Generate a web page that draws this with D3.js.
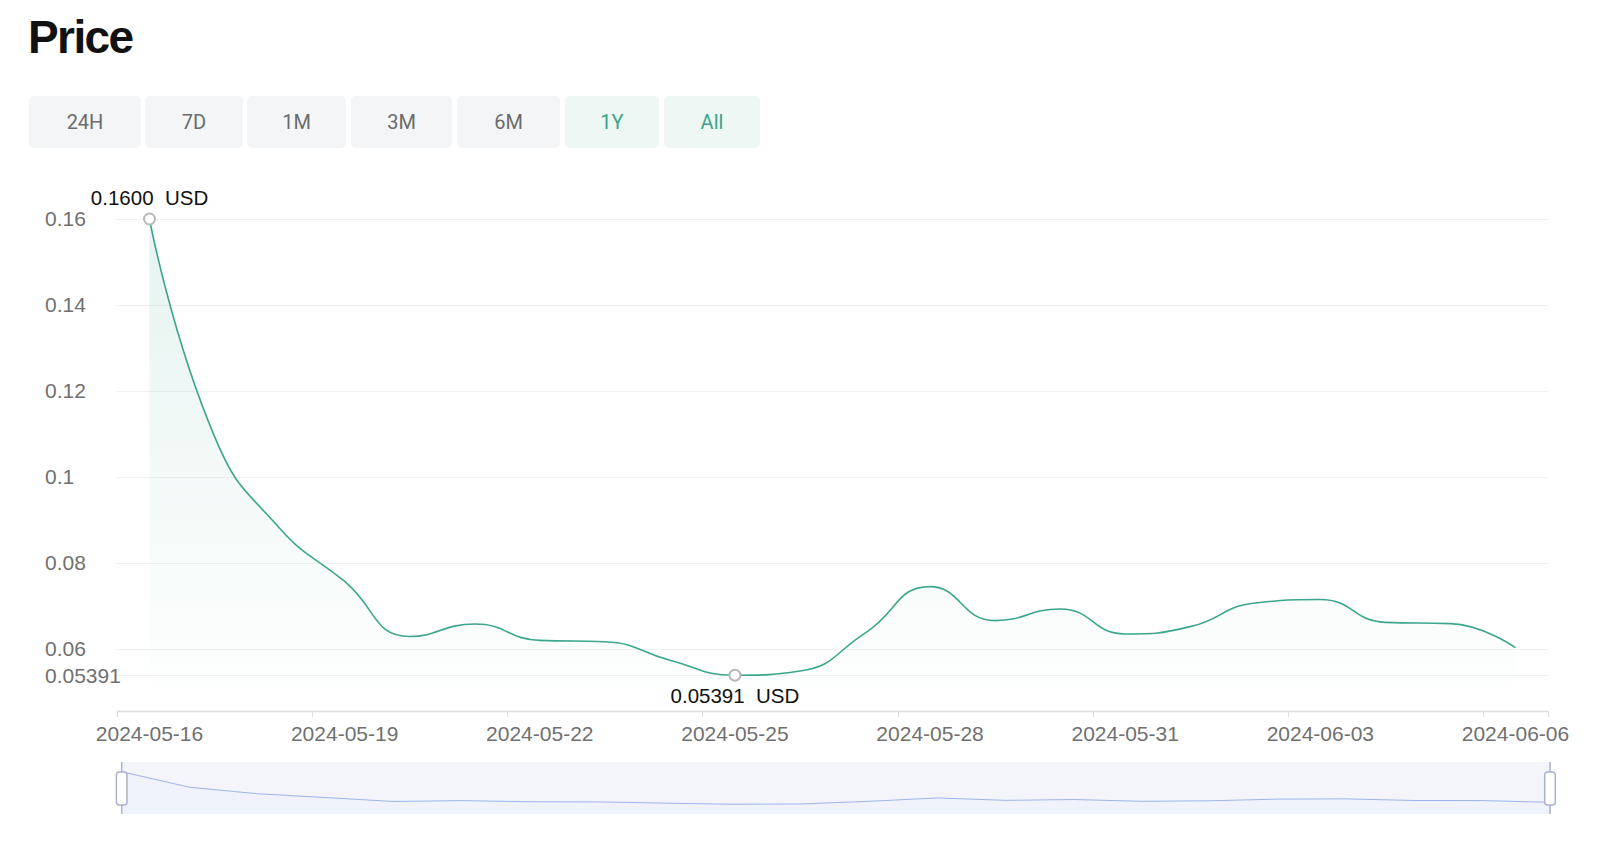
<!DOCTYPE html>
<html>
<head>
<meta charset="utf-8">
<script src="https://cdn.jsdelivr.net/npm/d3@7"></script>
<style>
  html, body { margin: 0; padding: 0; background: #fff; }
  svg { display: block; }
</style>
</head>
<body>
<svg id="chart" width="1600" height="846"></svg>
<script>
// ---------------- data ----------------
const dates = [
  "2024-05-16","2024-05-17","2024-05-18","2024-05-19","2024-05-20","2024-05-21",
  "2024-05-22","2024-05-23","2024-05-24","2024-05-25","2024-05-26","2024-05-27",
  "2024-05-28","2024-05-29","2024-05-30","2024-05-31","2024-06-01","2024-06-02",
  "2024-06-03","2024-06-04","2024-06-05","2024-06-06"
];
const prices = [
  0.1600, 0.1094, 0.0881, 0.0757, 0.0629, 0.0658,
  0.0620, 0.0617, 0.0574, 0.05391, 0.0549, 0.0637,
  0.0745, 0.0666, 0.0693, 0.0635, 0.0652, 0.0707,
  0.0715, 0.0662, 0.0659, 0.0603
];
const yTicks = [0.06, 0.08, 0.10, 0.12, 0.14, 0.16];
const yTickLabels = ["0.06", "0.08", "0.1", "0.12", "0.14", "0.16"];
const yMinValue = 0.05391;
const yMinLabel = "0.05391";
const yDomain = [0.04558, 0.16];
const xLabelEvery = 3;
const rangeButtons = ["24H", "7D", "1M", "3M", "6M", "1Y", "All"];
const activeButtons = ["1Y", "All"];
const unit = "USD";
const title = "Price";

// ---------------- layout ----------------
const svg = d3.select("#chart");
const FONT = "'Liberation Sans', Arial, Helvetica, sans-serif";
const plot = { left: 117, right: 1548, top: 219, bottom: 711 };
const green = "#3ba68b";

const x = d3.scaleBand().domain(dates).range([plot.left, plot.right]).paddingInner(0).paddingOuter(0);
const y = d3.scaleLinear().domain(yDomain).range([plot.bottom, plot.top]);
const cx = d => x(d) + x.bandwidth() / 2;

// title
svg.append("text").attr("x", 28).attr("y", 53)
  .attr("font-family", FONT).attr("font-weight", "bold").attr("font-size", 46)
  .attr("letter-spacing", -1.6).attr("fill", "#111").text(title);

// buttons
const btnX = d3.scaleOrdinal().domain(rangeButtons).range([29, 145, 247, 351, 457, 565, 664]);
const btnW = d3.scaleOrdinal().domain(rangeButtons).range([112, 98, 99, 101, 103, 94, 96]);
const bg = svg.append("g");
rangeButtons.forEach(b => {
  const active = activeButtons.includes(b);
  bg.append("rect").attr("x", btnX(b)).attr("y", 96).attr("width", btnW(b)).attr("height", 52)
    .attr("rx", 5).attr("fill", active ? "#eef7f4" : "#f3f5f6");
  bg.append("text").attr("x", btnX(b) + btnW(b) / 2).attr("y", 122)
    .attr("dy", "0.36em").attr("text-anchor", "middle")
    .attr("font-family", "Roboto, " + FONT).attr("font-size", 20)
    .attr("fill", active ? "#3aa58a" : "#6b6b6b").text(b);
});

// grid lines
const grid = svg.append("g");
[...yTicks, yMinValue].forEach(v => {
  grid.append("line").attr("x1", plot.left).attr("x2", plot.right)
    .attr("y1", Math.round(y(v)) + 0.5).attr("y2", Math.round(y(v)) + 0.5)
    .attr("stroke", "#f1f1f1").attr("stroke-width", 1);
});

// y labels
const yl = svg.append("g").attr("font-family", FONT).attr("font-size", 21).attr("fill", "#707070");
yTicks.forEach((v, i) => {
  yl.append("text").attr("x", 45).attr("y", y(v)).attr("dy", "0.35em").text(yTickLabels[i]);
});
yl.append("text").attr("x", 45).attr("y", y(yMinValue)).attr("dy", "0.35em").text(yMinLabel);

// x axis
const xa = svg.append("g");
xa.append("line").attr("x1", plot.left).attr("x2", plot.right)
  .attr("y1", plot.bottom + 0.5).attr("y2", plot.bottom + 0.5)
  .attr("stroke", "#dcdcdc").attr("stroke-width", 1.5);
const tickXs = dates.filter((d, i) => i % xLabelEvery === 0).map(d => x(d));
tickXs.push(plot.right);
tickXs.forEach(tx => {
  xa.append("line").attr("x1", Math.round(tx) + 0.5).attr("x2", Math.round(tx) + 0.5)
    .attr("y1", plot.bottom).attr("y2", plot.bottom + 6)
    .attr("stroke", "#dcdcdc").attr("stroke-width", 1);
});
dates.forEach((d, i) => {
  if (i % xLabelEvery !== 0) return;
  xa.append("text").attr("x", cx(d)).attr("y", 741).attr("text-anchor", "middle")
    .attr("font-family", FONT).attr("font-size", 21).attr("fill", "#707070").text(d);
});

// ECharts-like smooth path
function smoothPath(pts, smooth, ctx) {
  let prevX, prevY, cpx0, cpy0, cpx1, cpy1;
  const n = pts.length;
  for (let k = 0; k < n; k++) {
    const px = pts[k][0], py = pts[k][1];
    if (k === 0) { ctx.moveTo(px, py); cpx0 = px; cpy0 = py; }
    else {
      let nextCpx0, nextCpy0;
      if (k === n - 1) { cpx1 = px; cpy1 = py; }
      else {
        const nx = pts[k + 1][0], ny = pts[k + 1][1];
        let vx = nx - prevX, vy = ny - prevY;
        const dx0 = px - prevX, dx1 = nx - px, dy0 = py - prevY, dy1 = ny - py;
        const lp = Math.hypot(dx0, dy0), ln = Math.hypot(dx1, dy1);
        const r = ln / (ln + lp);
        nextCpx0 = px + vx * smooth * r;
        nextCpy0 = py + vy * smooth * r;
        nextCpx0 = Math.min(nextCpx0, Math.max(nx, px));
        nextCpy0 = Math.min(nextCpy0, Math.max(ny, py));
        nextCpx0 = Math.max(nextCpx0, Math.min(nx, px));
        nextCpy0 = Math.max(nextCpy0, Math.min(ny, py));
        vx = nextCpx0 - px; vy = nextCpy0 - py;
        cpx1 = px - vx * lp / ln; cpy1 = py - vy * lp / ln;
        cpx1 = Math.min(cpx1, Math.max(prevX, px));
        cpy1 = Math.min(cpy1, Math.max(prevY, py));
        cpx1 = Math.max(cpx1, Math.min(prevX, px));
        cpy1 = Math.max(cpy1, Math.min(prevY, py));
        vx = px - cpx1; vy = py - cpy1;
        nextCpx0 = px + vx * ln / lp; nextCpy0 = py + vy * ln / lp;
      }
      ctx.bezierCurveTo(cpx0, cpy0, cpx1, cpy1, px, py);
      cpx0 = nextCpx0; cpy0 = nextCpy0;
    }
    prevX = px; prevY = py;
  }
  return ctx;
}

const pts = dates.map((d, i) => [cx(d), y(prices[i])]);

// area gradient
const defs = svg.append("defs");
const grad = defs.append("linearGradient").attr("id", "areaGrad")
  .attr("x1", 0).attr("y1", 0).attr("x2", 0).attr("y2", 1);
grad.append("stop").attr("offset", "0%").attr("stop-color", green).attr("stop-opacity", 0.13);
grad.append("stop").attr("offset", "100%").attr("stop-color", green).attr("stop-opacity", 0);

const areaP = d3.path();
smoothPath(pts, 0.5, areaP);
areaP.lineTo(pts[pts.length - 1][0], plot.bottom);
areaP.lineTo(pts[0][0], plot.bottom);
areaP.closePath();
svg.append("path").attr("d", areaP.toString()).attr("fill", "url(#areaGrad)");

const lineP = d3.path();
smoothPath(pts, 0.5, lineP);
svg.append("path").attr("d", lineP.toString()).attr("fill", "none")
  .attr("stroke", green).attr("stroke-width", 1.6);

// max / min markers
const iMax = d3.maxIndex(prices), iMin = d3.minIndex(prices);
const mk = svg.append("g");
[[iMax, -14, d3.format(".4f")(prices[iMax])], [iMin, 27.5, String(prices[iMin])]].forEach(([i, dy, lab]) => {
  mk.append("circle").attr("cx", cx(dates[i])).attr("cy", y(prices[i])).attr("r", 5.5)
    .attr("fill", "#fff").attr("stroke", "#b8b8b8").attr("stroke-width", 2);
  mk.append("text").attr("x", cx(dates[i])).attr("y", y(prices[i]) + dy)
    .attr("text-anchor", "middle").attr("font-family", FONT).attr("font-size", 20.5)
    .attr("fill", "#111").text(lab + "\u00a0 " + unit);
});

// data zoom slider
const dz = { left: 121.7, right: 1550, top: 762, bottom: 814 };
const dzg = svg.append("g");
dzg.append("rect").attr("x", dz.left).attr("y", dz.top).attr("width", dz.right - dz.left)
  .attr("height", dz.bottom - dz.top).attr("fill", "#f3f5fb");
const ext = d3.extent(prices);
const off = (ext[1] - ext[0]) * 0.3;
const sy = d3.scaleLinear().domain([ext[0] - off, ext[1] + off]).range([dz.bottom, dz.top]);
const sx = d3.scalePoint().domain(dates).range([dz.left, dz.right]);
const shadowArea = d3.area().x((d, i) => sx(dates[i])).y0(dz.bottom).y1(d => sy(d));
dzg.append("path").attr("d", shadowArea(prices)).attr("fill", "#8fb0f7").attr("opacity", 0.025);
const shadowLine = d3.line().x((d, i) => sx(dates[i])).y(d => sy(d));
dzg.append("path").attr("d", shadowLine(prices)).attr("fill", "none")
  .attr("stroke", "#9fb4ea").attr("stroke-width", 1);
[dz.left, dz.right].forEach(hx => {
  dzg.append("line").attr("x1", hx).attr("x2", hx).attr("y1", dz.top).attr("y2", dz.bottom)
    .attr("stroke", "#aab3c8").attr("stroke-width", 1.5);
  dzg.append("rect").attr("x", hx - 5.3).attr("y", 772).attr("width", 10.6).attr("height", 33)
    .attr("rx", 3).attr("fill", "#fff").attr("stroke", "#aab3c8").attr("stroke-width", 1.5);
});
</script>
</body>
</html>
